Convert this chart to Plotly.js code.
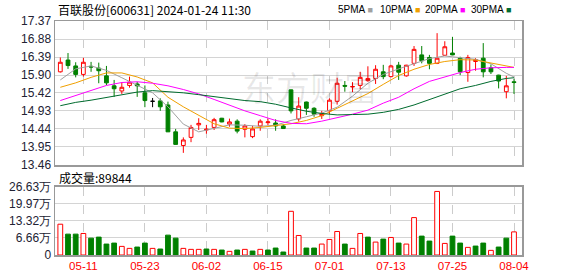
<!DOCTYPE html>
<html><head><meta charset="utf-8">
<script src="https://cdn.plot.ly/plotly-3.0.1.min.js"></script>
<style>html,body{margin:0;padding:0;background:#fff}#chart{width:578px;height:276px}</style>
</head><body><div id="chart"></div>
<script>
const stockName = '百联股份[600631]';
const stamp = '2024-01-24 11:30';
const lastVolume = 89844;

const openP  = [15.99,16.31,16.15,15.92,16.14,16.09,15.88,15.61,15.47,15.62,15.66,15.42,15.19,15.20,15.09,14.36,13.99,14.21,14.55,14.41,14.48,14.73,14.57,14.65,14.43,14.23,14.52,14.61,14.60,14.52,15.50,14.71,15.17,15.00,14.80,14.93,15.19,15.62,15.58,15.62,15.75,15.81,15.99,15.86,16.17,15.88,16.22,16.45,16.38,16.22,16.44,16.50,16.36,15.97,16.27,16.36,16.10,15.90,15.45,15.72];
const highP  = [16.38,16.50,16.25,16.37,16.26,16.24,16.15,15.77,15.71,15.86,15.72,15.62,15.28,15.27,15.18,14.44,14.21,14.55,14.73,14.55,14.74,14.74,14.72,14.70,14.57,14.52,14.70,14.72,14.70,14.57,15.51,15.30,15.18,15.03,14.93,15.27,15.83,15.74,15.71,15.99,16.14,16.17,16.18,16.18,16.26,16.18,16.69,16.69,16.45,17.04,16.82,16.94,16.40,16.45,16.36,16.77,16.19,15.91,15.88,15.80];
const lowP   = [15.97,16.07,15.84,15.86,15.99,15.68,15.63,15.31,15.39,15.56,15.31,15.03,15.03,14.93,14.36,14.02,13.79,14.08,14.41,14.31,14.41,14.62,14.50,14.32,14.21,14.19,14.39,14.54,14.39,14.44,14.86,14.64,14.82,14.77,14.71,14.84,15.10,15.45,15.44,15.52,15.72,15.66,15.79,15.84,15.77,15.86,16.15,16.22,16.06,16.20,16.42,16.44,15.90,15.72,16.02,15.84,15.93,15.54,15.27,15.39];
const closeP = [16.25,16.16,15.92,16.25,16.12,16.02,15.69,15.53,15.57,15.71,15.61,15.21,15.19,15.04,14.36,14.02,14.14,14.48,14.59,14.43,14.69,14.63,14.63,14.38,14.52,14.44,14.65,14.63,14.52,14.45,14.93,15.06,15.00,14.84,14.86,15.22,15.68,15.60,15.59,15.84,15.81,16.06,15.86,16.15,15.98,16.17,16.60,16.29,16.22,16.36,16.67,16.45,15.99,16.38,16.32,15.99,15.99,15.74,15.61,15.70];

// volume in 万股, and bar colour (1 = red/up, 0 = green/down)
const volume = [11.97,8.11,8.11,8.37,6.56,6.95,4.25,4.63,3.35,2.57,3.09,4.63,2.57,2.32,7.72,6.56,2.57,2.19,2.19,2.32,2.19,1.93,1.42,1.93,2.19,1.54,2.19,1.93,2.70,1.16,16.99,7.59,2.70,2.70,4.25,6.05,9.14,4.25,2.57,8.37,6.95,5.02,6.18,6.82,4.63,4.25,14.54,7.34,5.41,24.71,4.50,7.34,4.63,2.96,3.47,4.63,1.80,3.09,6.56,8.9844];
const volUp  = [1,0,0,1,0,0,0,0,1,1,0,0,1,0,0,0,1,1,1,0,1,0,1,0,1,0,1,0,0,0,1,1,0,0,1,1,1,0,1,1,0,1,0,1,0,1,1,0,0,1,1,0,0,1,0,0,1,0,0,1];

// moving averages read at these candle positions
const maIdx = [0,2,4,6,8,10,12,14,16,18,20,22,24,26,28,30,32,34,36,38,40,42,44,46,48,50,52,54,56,58,59];
const ma5  = [15.77,16.07,16.15,16.03,15.83,15.62,15.42,15.04,14.57,14.36,14.45,14.55,14.54,14.51,14.54,14.67,14.77,14.87,15.03,15.33,15.68,15.92,16.07,16.20,16.35,16.42,16.37,16.33,16.21,15.95,15.85];
const ma10 = [15.57,15.69,15.84,15.96,15.96,15.85,15.69,15.30,15.04,14.82,14.58,14.46,14.45,14.48,14.52,14.58,14.67,14.80,15.00,15.21,15.40,15.65,15.89,16.06,16.19,16.27,16.32,16.31,16.23,16.14,16.11];
const ma20 = [15.21,15.35,15.49,15.62,15.70,15.72,15.68,15.61,15.51,15.39,15.24,15.08,14.93,14.80,14.67,14.59,14.58,14.65,14.74,14.84,14.95,15.14,15.30,15.53,15.73,15.85,15.97,16.06,16.10,16.11,16.11];
const ma30 = [15.07,15.16,15.22,15.29,15.35,15.44,15.48,15.46,15.42,15.37,15.31,15.26,15.21,15.18,15.11,15.01,14.92,14.86,14.82,14.83,14.84,14.89,14.97,15.09,15.24,15.40,15.53,15.62,15.73,15.81,15.83];

const dateTickIdx  = [3,11,19,27,35,43,51,59];
const dateTickText = ['05-11','05-23','06-02','06-15','07-01','07-13','07-25','08-04'];
const priceTicks = [13.46,13.95,14.44,14.93,15.42,15.90,16.39,16.88,17.37];
const volTicks   = [0,6.66,13.32,19.97,26.63];

const maNames  = ['5PMA','10PMA','20PMA','30PMA'];
const maColors = ['#a0a0a0','#f0a000','#ff00ff','#006b2e'];
const RED = '#ff0000', GREEN = '#008000';

// layout geometry (pixels)
const L = 55, T = 21, W = 467, H = 234;
const px2x = p => (p - L) / W;
const py2y = p => (T + H - p) / H;

const idx = closeP.map((_, i) => i);
const normal = idx.filter(i => openP[i] !== closeP[i]);
const doji = idx.filter(i => openP[i] === closeP[i]);
const pick = (arr, sel) => sel.map(i => arr[i]);

const traces = [
  {type:'candlestick', x: normal, open: pick(openP, normal), high: pick(highP, normal), low: pick(lowP, normal), close: pick(closeP, normal),
   xaxis:'x', yaxis:'y', whiskerwidth:0, hoverinfo:'skip',
   increasing:{line:{color:RED, width:1}, fillcolor:'#ffffff'},
   decreasing:{line:{color:GREEN, width:1}, fillcolor:GREEN}},
  {type:'candlestick', x: doji, open: pick(openP, doji), high: pick(highP, doji), low: pick(lowP, doji), close: pick(closeP, doji),
   xaxis:'x', yaxis:'y', whiskerwidth:0, hoverinfo:'skip',
   increasing:{line:{color:'#000', width:1}, fillcolor:'#000'},
   decreasing:{line:{color:'#000', width:1}, fillcolor:'#000'}},
];
[ma5, ma10, ma20, ma30].forEach((m, k) => {
  traces.push({type:'scatter', mode:'lines', x: maIdx, y: m, xaxis:'x', yaxis:'y',
    line:{color: maColors[k], width:1}, hoverinfo:'skip'});
});
traces.push({type:'bar', x: idx, y: volume, xaxis:'x2', yaxis:'y2', width:0.62, hoverinfo:'skip',
  marker:{color: volUp.map(u => u ? '#ffffff' : GREEN), line:{color: volUp.map(u => u ? RED : GREEN), width:1}}});

const xr = [-0.69, 60.04];
const baseX = {range: xr, tickvals: dateTickIdx, showgrid:true, gridcolor:'#cccccc', griddash:'dash', gridwidth:1,
  showline:true, linecolor:'#999999', linewidth:1.5, mirror:true, zeroline:false, ticks:'', fixedrange:true};
const tickFont = {family:'Liberation Sans, Arial, sans-serif', size:12, color:'#222233'};

const annotations = [
  {xref:'paper', yref:'paper', x: px2x(56), y: py2y(10), xanchor:'left', yanchor:'middle', showarrow:false,
   text: stockName + ' ' + stamp, font:{family:'Noto Sans CJK SC, sans-serif', size:12, color:'#000'}},
  {xref:'paper', yref:'paper', x: px2x(57), y: py2y(177.5), xanchor:'left', yanchor:'middle', showarrow:false,
   text: '成交量:' + lastVolume, font:{family:'Noto Sans CJK SC, sans-serif', size:12, color:'#000'}},
  {xref:'paper', yref:'paper', x: px2x(310), y: py2y(86), xanchor:'center', yanchor:'middle', showarrow:false,
   text: '东方财富', font:{family:'Noto Sans CJK SC, sans-serif', size:34, color:'rgba(0,0,0,0.09)'}},
];
const legendX = [337, 379, 424, 470];
maNames.forEach((n, k) => {
  annotations.push({xref:'paper', yref:'paper', x: px2x(legendX[k]), y: py2y(9.5), xanchor:'left', yanchor:'middle', showarrow:false,
    borderpad:0,
    text: n + ' <span style="color:' + maColors[k] + ';font-size:9px">■</span>',
    font:{family:'Liberation Sans Narrow, Liberation Sans, Arial, sans-serif', size:10, color:'#000'}});
});

const layout = {
  width:578, height:276, margin:{l:L, r:578-L-W, t:T, b:276-T-H, pad:0},
  paper_bgcolor:'#ffffff', plot_bgcolor:'#ffffff', showlegend:false, bargap:0.35,
  xaxis: Object.assign({}, baseX, {anchor:'y', showticklabels:false, rangeslider:{visible:false}}),
  yaxis: {domain:[py2y(165), 1], range:[13.46, 17.37], tickvals: priceTicks, ticktext: priceTicks.map(v => v.toFixed(2)),
    showgrid:true, gridcolor:'#d4d4d4', showline:true, linecolor:'#999999', linewidth:1.5, mirror:true, zeroline:false,
    ticks:'', tickfont: tickFont, fixedrange:true},
  xaxis2: Object.assign({}, baseX, {anchor:'y2', ticktext: dateTickText, showticklabels:true,
    tickfont:{family:'Liberation Sans, Arial, sans-serif', size:11.5, color:RED}}),
  yaxis2: {domain:[0, py2y(186.5)], range:[0, 26.63], tickvals: volTicks, ticktext: volTicks.map(v => v === 0 ? '0' : v.toFixed(2) + '万'),
    showgrid:true, gridcolor:'#d4d4d4', showline:true, linecolor:'#999999', linewidth:1.5, mirror:true, zeroline:false,
    ticks:'', tickfont: tickFont, fixedrange:true},
  annotations: annotations,
};

Plotly.newPlot('chart', traces, layout, {displayModeBar:false, staticPlot:true});
</script>
</body></html>
